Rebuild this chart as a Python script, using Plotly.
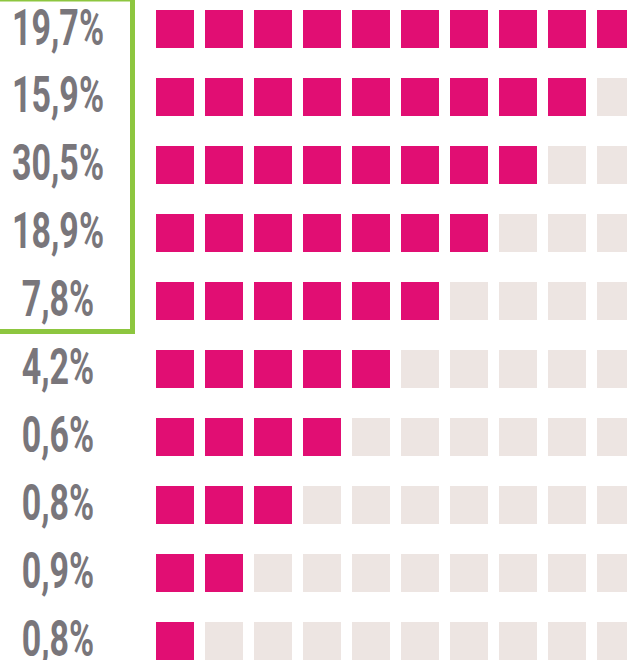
import plotly.graph_objects as go

# ---- data ----
labels = ["19,7%", "15,9%", "30,5%", "18,9%", "7,8%", "4,2%", "0,6%", "0,8%", "0,9%", "0,8%"]
filled_counts = [10, 9, 8, 7, 6, 5, 4, 3, 2, 1]
total_per_row = 10

# ---- styling / layout constants ----
W, H = 627, 660
PINK = "#E10E73"
EMPTY = "#EDE5E2"
GRAY = "#79767B"
GREEN = "#8DC63F"
SQ = 38
COL0_PX, COL_STEP = 175, 49   # center of first column, pitch (px)
ROW0_PX, ROW_STEP = 29, 68    # center of first row, pitch (px)
LABEL_PX = 58
LABEL_DY_PX = 3
TEXT_SQUEEZE = 0.68           # horizontal condensing of the label font

xr = [(0 - COL0_PX) / COL_STEP, (W - COL0_PX) / COL_STEP]
yr = [(H - ROW0_PX) / ROW_STEP, (0 - ROW0_PX) / ROW_STEP]

fx, fy, ex, ey = [], [], [], []
for r, n in enumerate(filled_counts):
    for c in range(total_per_row):
        if c < n:
            fx.append(c); fy.append(r)
        else:
            ex.append(c); ey.append(r)

fig = go.Figure()
fig.add_trace(go.Scatter(x=ex, y=ey, mode="markers",
                         marker=dict(symbol="square", size=SQ, color=EMPTY, line=dict(width=0)),
                         hoverinfo="skip"))
fig.add_trace(go.Scatter(x=fx, y=fy, mode="markers",
                         marker=dict(symbol="square", size=SQ, color=PINK, line=dict(width=0)),
                         hoverinfo="skip"))
label_x = (LABEL_PX - COL0_PX) / COL_STEP
label_y = [r + LABEL_DY_PX / ROW_STEP for r in range(len(labels))]
fig.add_trace(go.Scatter(x=[label_x] * len(labels), y=label_y, mode="text",
                         text=labels, textposition="middle center",
                         textfont=dict(family="Roboto, sans-serif", size=50, color=GRAY, weight="bold"),
                         hoverinfo="skip", cliponaxis=False))

# green frame around the first five labels
fig.add_shape(type="rect", xref="paper", yref="paper",
              x0=-5 / W, x1=132.5 / W, y0=1 + 1 / H, y1=(H - 331.5) / H,
              line=dict(color=GREEN, width=5), fillcolor="rgba(0,0,0,0)", layer="above")

fig.update_xaxes(range=xr, visible=False, fixedrange=True)
fig.update_yaxes(range=yr, visible=False, fixedrange=True)
fig.update_layout(width=W, height=H, margin=dict(l=0, r=0, t=0, b=0),
                  paper_bgcolor="white", plot_bgcolor="white", showlegend=False)

post = """
document.body.style.margin='0';document.body.style.overflow='hidden';
(function(){
  var gd=document.getElementById('{plot_id}');
  function squeeze(){
    gd.querySelectorAll('.textpoint text').forEach(function(t){
      var x=parseFloat(t.getAttribute('x'))||0, y=parseFloat(t.getAttribute('y'))||0;
      t.setAttribute('transform','translate('+x+','+y+') scale(SQZ,1) translate('+(-x)+','+(-y)+')');
    });
  }
  squeeze();
  gd.on && gd.on('plotly_afterplot', squeeze);
})();
""".replace("SQZ", str(TEXT_SQUEEZE))

fig.write_html("out.html", config={"displayModeBar": False}, post_script=post)
